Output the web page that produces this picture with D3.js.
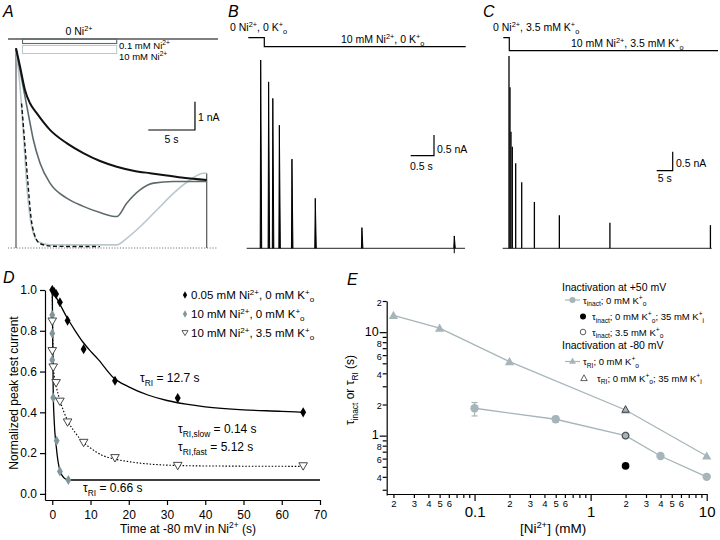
<!DOCTYPE html>
<html><head><meta charset="utf-8">
<script src="https://cdn.jsdelivr.net/npm/d3@7"></script>
<style>body{margin:0;background:#fff}svg{font-family:"Liberation Sans",Arial,sans-serif}</style>
</head><body><svg id="c" width="720" height="540"></svg>
<script>
// ---------- DATA ----------
// Panel A traces: [time s, current nA]
const traceA_0Ni = [[0,7.05],[0.43,6.41],[0.96,5.58],[1.5,5.11],[2.22,4.76],[3.64,4.17],[5.43,3.7],[7.21,3.35],[9.0,3.07],[10.79,2.87],[12.57,2.73],[14.36,2.64],[16.15,2.56],[17.93,2.48],[20.43,2.4]];
const traceA_01Ni = [[0,7.05],[0.43,6.29],[0.96,5.35],[1.5,4.42],[1.86,3.82],[2.57,3.0],[3.64,2.29],[5.43,1.76],[7.21,1.47],[9.0,1.25],[10.79,1.11],[11.86,1.58],[13.29,2.05],[14.72,2.29],[16.86,2.35],[20.43,2.35]];
const traceA_10Ni = [[0,7.05],[0.43,5.7],[0.79,4.05],[1.14,2.29],[1.5,1.1],[1.86,0.52],[2.39,0.22],[3.64,0.11],[9,0.11],[10.79,0.11],[11.86,0.34],[13.29,0.75],[15.08,1.34],[16.86,1.93],[18.65,2.4],[20.07,2.64],[20.43,2.64]];
const fitA_10Ni = [[0.6,5.1],[0.96,3.6],[1.3,2.2],[1.6,1.1],[2.0,0.45],[2.6,0.15],[4,0.06],[9,0.05]];
// Panel B spikes: time (s), peak (nA)
const spikesB_t = [0.30,0.47,0.56,0.70,0.97,1.47,2.47,4.45];
const spikesB_i = [4.56,4.03,3.63,2.98,2.16,1.21,0.50,0.30];
// Panel C spikes
const spikesC_t = [1.97,2.28,2.59,3.0,4.06,5.94,9.9,17.7,33.5,64.9];
const spikesC_i = [5.06,4.24,3.07,2.67,2.24,1.74,1.22,0.87,0.67,0.61];
// Panel D
const dTicksX = [0,10,20,30,40,50,60,70];
const dTicksY = [0.0,0.2,0.4,0.6,0.8,1.0];
const d005_t = [0,0.5,1,2,4,8.2,16.4,32.8,65.6];
const d005_y = [1.0,0.99,0.98,0.94,0.85,0.71,0.555,0.47,0.40];
const d10_t = [0,0,0,0,0.25,1.15,2,4.2];
const d10_y = [1.0,0.877,0.787,0.657,0.472,0.26,0.11,0.068];
const d10K_t = [0,0,0.25,1,2,4,8.2,16.4,32.8,65.6];
const d10K_y = [0.845,0.70,0.62,0.543,0.452,0.35,0.25,0.175,0.137,0.135];
const fit005 = [[0,1.0],[2,0.93],[4,0.86],[6,0.80],[8,0.745],[10,0.70],[12,0.66],[16,0.57],[20,0.525],[25,0.485],[30,0.458],[35,0.44],[40,0.427],[50,0.412],[60,0.405],[65.6,0.40]];
const fit10 = [[0,1.0],[0.1,0.8],[0.25,0.5],[0.5,0.36],[1,0.24],[1.5,0.16],[2,0.115],[3,0.08],[4,0.07],[5,0.068],[70,0.068]];
const fit10K = [[0,1.0],[0.1,0.8],[0.25,0.65],[0.5,0.58],[1,0.53],[2,0.46],[4,0.36],[6,0.30],[8,0.255],[10,0.225],[13,0.19],[16,0.172],[20,0.158],[25,0.147],[30,0.141],[40,0.137],[65.6,0.135]];
// Panel E
const eInact_x = [0.1,0.5,2,4,10];
const eInact_y = [1.84,1.44,1.0,0.636,0.40];
const eInact_lo = [1.55,1.35,0.95,null,null];
const eInact_hi = [2.09,1.54,1.05,null,null];
const eRI_x = [0.02,0.05,0.2,2,10];
const eRI_y = [14.5,10.95,5.2,1.77,0.636];
const eK35_x = [2], eK35_y = [0.51];
const eK35o_x = [2], eK35o_y = [1.0];
const eRI35_x = [2], eRI35_y = [1.8];
const eTicksY = [0.3,0.4,0.5,0.6,0.7,0.8,0.9,1,2,3,4,5,6,7,8,9,10,20];
const eTicksX = [0.02,0.03,0.04,0.05,0.06,0.07,0.08,0.09,0.1,0.2,0.3,0.4,0.5,0.6,0.7,0.8,0.9,1,2,3,4,5,6,7,8,9,10];

// ---------- HELPERS ----------
const svg = d3.select('#c');
function rich(sel, x, y, parts, size, anchor, fill) {
  const t = sel.append('text').attr('x',x).attr('y',y).attr('font-size',size)
    .attr('text-anchor',anchor||'start').attr('fill',fill||'#000');
  let cur = 0;
  parts.forEach(p => {
    let s,k; if (typeof p==='string'){s=p;k='n';} else {[s,k]=p;}
    const target = k==='sup' ? -0.38*size : k==='sub' ? 0.3*size : 0;
    const ts = t.append('tspan').attr('dy', target-cur).text(s);
    if (k!=='n') ts.attr('font-size', size*0.7);
    cur = target;
  });
  return t;
}
const panelLabel = (x,y,s)=>svg.append('text').attr('x',x).attr('y',y).attr('font-size',16).attr('font-style','italic').text(s);
const line = d3.line();

// ---------- PANEL A ----------
{
  const g = svg.append('g');
  const x = d3.scaleLinear().domain([0,20.43]).range([16,206.7]);
  const y = d3.scaleLinear().domain([0,7.05]).range([248,48.3]);
  const lc = d3.line().x(d=>x(d[0])).y(d=>y(d[1])).curve(d3.curveMonotoneX);
  panelLabel(3,17,'A');
  g.append('line').attr('x1',8).attr('x2',218).attr('y1',39).attr('y2',39).attr('stroke','#555').attr('stroke-width',1.3);
  rich(g,79,35,['0 Ni',['2+','sup']],10.5,'middle');
  g.append('rect').attr('x',x(0.7)).attr('y',39).attr('width',x(10.79)-x(0.7)).attr('height',4.5).attr('fill','none').attr('stroke','#5d6a6d').attr('stroke-width',1.1);
  g.append('rect').attr('x',x(0.7)).attr('y',45.5).attr('width',x(10.79)-x(0.7)).attr('height',8).attr('fill','none').attr('stroke','#b8c8cc').attr('stroke-width',1);
  rich(g,119,48.5,['0.1 mM Ni',['2+','sup']],9.5,'start');
  rich(g,119,59.5,['10 mM Ni',['2+','sup']],9.5,'start');
  g.append('line').attr('x1',8).attr('x2',218).attr('y1',y(0)).attr('y2',y(0)).attr('stroke','#777').attr('stroke-dasharray','1.2,1.6');
  g.append('path').attr('d',line([[x(0),y(0)],[x(0),y(7.05)]])).attr('stroke','#555').attr('stroke-width',1.2);
  g.append('path').attr('d',line([[x(20.43),y(0)],[x(20.43),y(2.64)]])).attr('stroke','#555').attr('stroke-width',1.2);
  g.append('path').attr('d',lc(traceA_10Ni)).attr('fill','none').attr('stroke','#b8c8cc').attr('stroke-width',1.6);
  g.append('path').attr('d',lc(traceA_01Ni)).attr('fill','none').attr('stroke','#5d6a6d').attr('stroke-width',1.6);
  g.append('path').attr('d',lc(traceA_0Ni)).attr('fill','none').attr('stroke','#111').attr('stroke-width',2);
  g.append('path').attr('d',lc(fitA_10Ni)).attr('fill','none').attr('stroke','#111').attr('stroke-width',1.4).attr('stroke-dasharray','4,2.5');
  const sx0 = 148.3, sy0 = 130;
  g.append('path').attr('d',line([[sx0,sy0],[sx0+x(5)-x(0),sy0],[sx0+x(5)-x(0),sy0-(y(0)-y(1))]])).attr('fill','none').attr('stroke','#000').attr('stroke-width',1.2);
  g.append('text').attr('x',198).attr('y',121).attr('font-size',10.5).text('1 nA');
  g.append('text').attr('x',171.5).attr('y',143).attr('font-size',10.5).attr('text-anchor','middle').text('5 s');
}

// ---------- PANEL B ----------
{
  const g = svg.append('g');
  const x = d3.scaleLinear().domain([0,4.68]).range([246.7,465]);
  const y = d3.scaleLinear().domain([0,4.56]).range([248.3,60]);
  panelLabel(228,17,'B');
  rich(g,230,31,['0 Ni',['2+','sup'],', 0 K',['+','sup'],['o','sub']],10.5,'start');
  g.append('path').attr('d',line([[248.3,37.7],[264.3,37.7],[264.3,46.7],[465.7,46.7]])).attr('fill','none').attr('stroke','#000').attr('stroke-width',1.2);
  rich(g,341,43,['10 mM Ni',['2+','sup'],', 0 K',['+','sup'],['o','sub']],10.5,'start');
  g.append('line').attr('x1',x(0)).attr('x2',x(4.68)).attr('y1',y(0)).attr('y2',y(0)).attr('stroke','#222').attr('stroke-width',1);
  spikesB_t.forEach((t,i)=>{
    g.append('path').attr('d',line([[x(t)-0.5,y(0)],[x(t),y(spikesB_i[i])],[x(t)+1.0,y(0)]])).attr('fill','#000').attr('stroke','#000').attr('stroke-width',1.0);
  });
  g.append('line').attr('x1',x(4.45)).attr('x2',x(4.45)).attr('y1',y(0)).attr('y2',y(-0.12)).attr('stroke','#000');
  const sx = 434, sy = 155.7;
  g.append('path').attr('d',line([[sx-(x(0.5)-x(0)),sy],[sx,sy],[sx,sy-(y(0)-y(0.5))]])).attr('fill','none').attr('stroke','#000').attr('stroke-width',1.2);
  g.append('text').attr('x',437).attr('y',153).attr('font-size',10.5).text('0.5 nA');
  g.append('text').attr('x',410).attr('y',170).attr('font-size',10.5).text('0.5 s');
}

// ---------- PANEL C ----------
{
  const g = svg.append('g');
  const x = d3.scaleLinear().domain([0,65.3]).range([502.7,711.7]);
  const y = d3.scaleLinear().domain([0,5.06]).range([248.3,56]);
  panelLabel(483,17,'C');
  rich(g,493,31,['0 Ni',['2+','sup'],', 3.5 mM K',['+','sup'],['o','sub']],10.5,'start');
  g.append('path').attr('d',line([[503.3,37.7],[509.3,37.7],[509.3,50.7],[718,50.7]])).attr('fill','none').attr('stroke','#000').attr('stroke-width',1.2);
  rich(g,571,47,['10 mM Ni',['2+','sup'],', 3.5 mM K',['+','sup'],['o','sub']],10.5,'start');
  g.append('line').attr('x1',x(0)).attr('x2',x(65.3)).attr('y1',y(0)).attr('y2',y(0)).attr('stroke','#222').attr('stroke-width',1);
  spikesC_t.forEach((t,i)=>{
    g.append('line').attr('x1',x(t)).attr('x2',x(t)).attr('y1',y(0)).attr('y2',y(spikesC_i[i])).attr('stroke','#000').attr('stroke-width',1.3);
  });
  const sx = 672.7, sy = 170.7;
  g.append('path').attr('d',line([[sx-(x(5)-x(0)),sy],[sx,sy],[sx,sy-(y(0)-y(0.5))]])).attr('fill','none').attr('stroke','#000').attr('stroke-width',1.2);
  g.append('text').attr('x',676).attr('y',167).attr('font-size',10.5).text('0.5 nA');
  g.append('text').attr('x',664.7).attr('y',182).attr('font-size',10.5).attr('text-anchor','middle').text('5 s');
}

// ---------- PANEL D ----------
{
  const g = svg.append('g');
  const x = d3.scaleLinear().domain([-1.9,70]).range([45,320]);
  const y = d3.scaleLinear().domain([-0.03,1.0]).range([500,290]);
  panelLabel(3,283,'D');
  const ax = g.append('g').attr('transform','translate(0,500)').call(d3.axisBottom(x).tickValues(dTicksX).tickSize(5).tickSizeOuter(0));
  const ay = g.append('g').attr('transform','translate(45,0)').call(d3.axisLeft(y).tickValues(dTicksY).tickFormat(d3.format('.1f')).tickSize(5).tickSizeOuter(0));
  [ax,ay].forEach(a=>{a.selectAll('text').attr('font-size',12).attr('font-family','Liberation Sans, Arial, sans-serif').attr('fill','#000');a.selectAll('line,path').attr('stroke','#000').attr('stroke-width',1.2);});
  ax.selectAll('text').attr('dy','0.9em');
  rich(g,188,533,['Time at -80 mV in Ni',['2+','sup'],' (s)'],12,'middle');
  g.append('text').attr('transform','translate(18,393) rotate(-90)').attr('font-size',12).attr('text-anchor','middle').text('Normalized peak test current');
  const lc = d3.line().x(d=>x(d[0])).y(d=>y(d[1])).curve(d3.curveMonotoneX);
  g.append('path').attr('d',lc(fit005)).attr('fill','none').attr('stroke','#000').attr('stroke-width',1.3);
  g.append('path').attr('d',lc(fit10)).attr('fill','none').attr('stroke','#000').attr('stroke-width',1.3);
  g.append('path').attr('d',lc(fit10K)).attr('fill','none').attr('stroke','#000').attr('stroke-width',1.1).attr('stroke-dasharray','1.5,1.8');
  const dia = d3.symbol(d3.symbolDiamond, 30);
  const tri = 'M0,3.8L-4.3,-3.6L4.3,-3.6Z';
  d10_t.forEach((t,i)=>g.append('path').attr('d',dia()).attr('transform',`translate(${x(t)},${y(d10_y[i])})`).attr('fill','#7f969c'));
  d10K_t.forEach((t,i)=>g.append('path').attr('d',tri).attr('transform',`translate(${x(t)},${y(d10K_y[i])})`).attr('fill','#fff').attr('stroke','#333').attr('stroke-width',0.9));
  d005_t.forEach((t,i)=>g.append('path').attr('d',dia()).attr('transform',`translate(${x(t)},${y(d005_y[i])})`).attr('fill','#000'));
  const dias = d3.symbol(d3.symbolDiamond, 16);
  g.append('path').attr('d',dias()).attr('transform','translate(185,295)').attr('fill','#000');
  g.append('path').attr('d',dias()).attr('transform','translate(185,314)').attr('fill','#7f969c');
  g.append('path').attr('d','M0,2.6L-3,-2.4L3,-2.4Z').attr('transform','translate(185,333)').attr('fill','#fff').attr('stroke','#333').attr('stroke-width',0.8);
  rich(g,191,299,['0.05 mM Ni',['2+','sup'],', 0 mM K',['+','sup'],['o','sub']],11.5);
  rich(g,191,318,['10 mM Ni',['2+','sup'],', 0 mM K',['+','sup'],['o','sub']],11.5);
  rich(g,191,337,['10 mM Ni',['2+','sup'],', 3.5 mM K',['+','sup'],['o','sub']],11.5);
  rich(g,140,382,['τ',['RI','sub'],' = 12.7 s'],12);
  rich(g,178,433,['τ',['RI,slow','sub'],' = 0.14 s'],12);
  rich(g,178,451,['τ',['RI,fast','sub'],' = 5.12 s'],12);
  rich(g,83,492,['τ',['RI','sub'],' = 0.66 s'],12);
}

// ---------- PANEL E ----------
{
  const g = svg.append('g');
  const x = d3.scaleLog().domain([0.0175,10]).range([386.7,706.7]);
  const y = d3.scaleLog().domain([0.267,20]).range([495,301]);
  panelLabel(347,285,'E');
  const bigY = {1:'1',10:'10'}, smallY = {0.4:'4',0.6:'6',0.8:'8',2:'2',4:'4',6:'6',8:'8',20:'2'};
  const ay = g.append('g').attr('transform','translate(386.7,0)').call(d3.axisLeft(y).tickValues(eTicksY).tickFormat(d=>bigY[d]||smallY[d]||'').tickSize(4).tickSizeOuter(0));
  ay.selectAll('.tick').each(function(d){
    const s = d3.select(this);
    if (bigY[d]) { s.select('line').attr('x2',-7); s.select('text').attr('font-size',12.5).attr('x',-8).attr('dy','0.25em'); }
    else s.select('text').attr('font-size',9).attr('x',-5).attr('dy','0.45em');
  });
  const bigX = {0.1:'0.1',1:'1',10:'10'};
  const smallX = d=>{const m = d/Math.pow(10,Math.floor(Math.log10(d)+1e-9)); const r=Math.round(m); return (r>=2&&r<=6)?String(r):'';};
  const ax = g.append('g').attr('transform','translate(0,494)').call(d3.axisBottom(x).tickValues(eTicksX).tickFormat(d=>bigX[d]||smallX(d)).tickSize(4).tickSizeOuter(0));
  ax.selectAll('.tick').each(function(d){
    const s = d3.select(this);
    if (bigX[d]) { s.select('line').attr('y2',7); s.select('text').attr('font-size',15).attr('y',12); }
    else s.select('text').attr('font-size',9.5).attr('y',6);
  });
  [ax,ay].forEach(a=>{a.selectAll('text').attr('font-family','Liberation Sans, Arial, sans-serif').attr('fill','#000');a.selectAll('line,path').attr('stroke','#000').attr('stroke-width',1.2);});
  rich(g,553,533,['[Ni',['2+','sup'],']  (mM)'],13.5,'middle');
  const yl = g.append('g').attr('transform','translate(354,390) rotate(-90)');
  rich(yl,0,0,['τ',['inact','sub'],' or τ',['RI','sub'],'  (s)'],12,'middle');
  const gc = '#a5b5ba';
  const lp = d3.line().x(d=>x(d[0])).y(d=>y(d[1]));
  g.append('path').attr('d',lp(eRI_x.map((v,i)=>[v,eRI_y[i]]))).attr('fill','none').attr('stroke',gc).attr('stroke-width',1.3);
  g.append('path').attr('d',lp(eInact_x.map((v,i)=>[v,eInact_y[i]]))).attr('fill','none').attr('stroke',gc).attr('stroke-width',1.3);
  eInact_x.forEach((v,i)=>{ if(eInact_lo[i]!=null){
    const xx=x(v);
    g.append('path').attr('d',line([[xx,y(eInact_lo[i])],[xx,y(eInact_hi[i])]])).attr('stroke',gc).attr('stroke-width',1.2);
    g.append('path').attr('d',line([[xx-3,y(eInact_lo[i])],[xx+3,y(eInact_lo[i])]])).attr('stroke',gc).attr('stroke-width',1.2);
    g.append('path').attr('d',line([[xx-3,y(eInact_hi[i])],[xx+3,y(eInact_hi[i])]])).attr('stroke',gc).attr('stroke-width',1.2);
  }});
  const triU = 'M0,-4.6L-4.6,3.6L4.6,3.6Z';
  eRI_x.forEach((v,i)=>g.append('path').attr('d',triU).attr('transform',`translate(${x(v)},${y(eRI_y[i])})`).attr('fill',gc));
  eInact_x.forEach((v,i)=>g.append('circle').attr('cx',x(v)).attr('cy',y(eInact_y[i])).attr('r',4.2).attr('fill',gc));
  eK35_x.forEach((v,i)=>g.append('circle').attr('cx',x(v)).attr('cy',y(eK35_y[i])).attr('r',3.8).attr('fill','#000'));
  eK35o_x.forEach((v,i)=>g.append('circle').attr('cx',x(v)).attr('cy',y(eK35o_y[i])).attr('r',3.3).attr('fill','none').attr('stroke','#333').attr('stroke-width',0.9));
  eRI35_x.forEach((v,i)=>g.append('path').attr('d','M0,-3.6L-3.6,3L3.6,3Z').attr('transform',`translate(${x(v)},${y(eRI35_y[i])})`).attr('fill','none').attr('stroke','#333').attr('stroke-width',0.9));
  g.append('text').attr('x',562).attr('y',291).attr('font-size',10.5).text('Inactivation at +50 mV');
  g.append('line').attr('x1',565).attr('x2',580).attr('y1',300).attr('y2',300).attr('stroke',gc).attr('stroke-width',1.2);
  g.append('circle').attr('cx',572.5).attr('cy',300).attr('r',3).attr('fill',gc);
  rich(g,583,303.5,['τ',['inact','sub'],'; 0 mM K',['+','sup'],['o','sub']],9.5);
  g.append('circle').attr('cx',583).attr('cy',316.5).attr('r',3).attr('fill','#000');
  rich(g,592,320,['τ',['inact','sub'],'; 0 mM K',['+','sup'],['o','sub'],'; 35 mM K',['+','sup'],['i','sub']],9.5);
  g.append('circle').attr('cx',583).attr('cy',332).attr('r',2.8).attr('fill','none').attr('stroke','#333').attr('stroke-width',0.8);
  rich(g,592,335.5,['τ',['inact','sub'],'; 3.5 mM K',['+','sup'],['o','sub']],9.5);
  g.append('text').attr('x',562).attr('y',349).attr('font-size',10.5).text('Inactivation at -80 mV');
  g.append('line').attr('x1',565).attr('x2',580).attr('y1',361.5).attr('y2',361.5).attr('stroke',gc).attr('stroke-width',1.2);
  g.append('path').attr('d','M0,-3.4L-3.4,2.8L3.4,2.8Z').attr('transform','translate(572.5,361)').attr('fill',gc);
  rich(g,583,365,['τ',['RI','sub'],'; 0 mM K',['+','sup'],['o','sub']],9.5);
  g.append('path').attr('d','M0,-3.2L-3.2,2.6L3.2,2.6Z').attr('transform','translate(584,378)').attr('fill','none').attr('stroke','#333').attr('stroke-width',0.8);
  rich(g,597,381.5,['τ',['RI','sub'],'; 0 mM K',['+','sup'],['o','sub'],'; 35 mM K',['+','sup'],['i','sub']],9.5);
}
</script></body></html>
